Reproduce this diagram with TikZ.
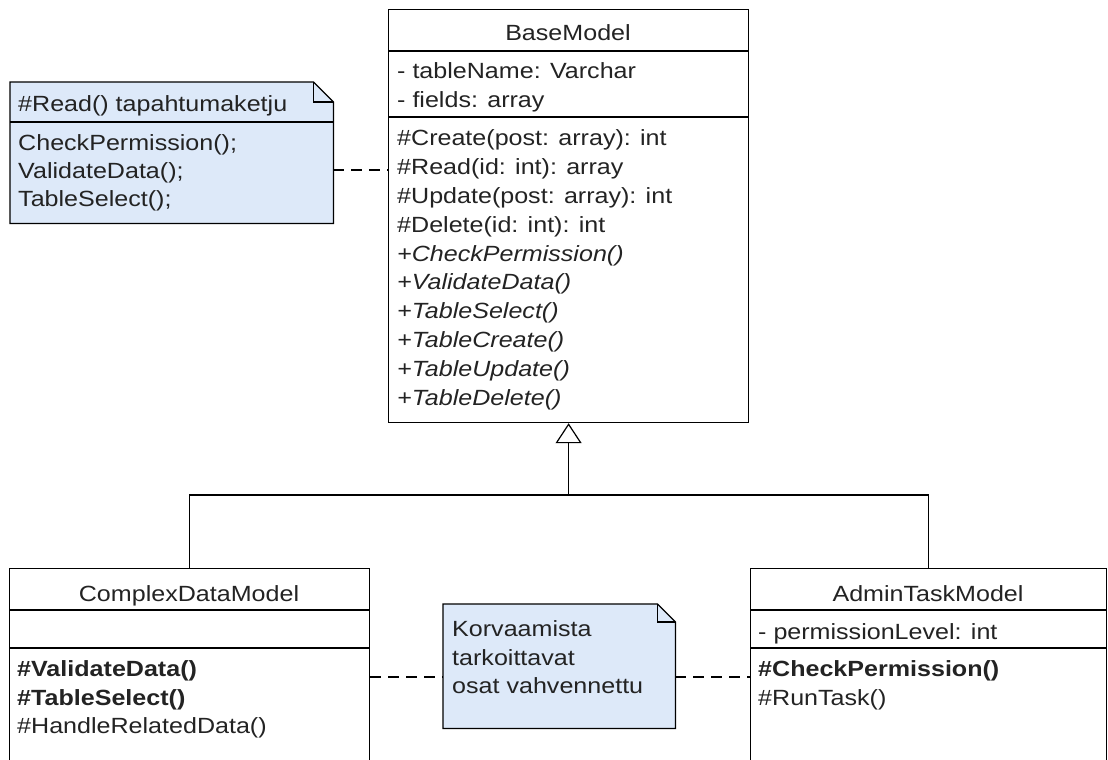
\documentclass[tikz,border=0pt]{standalone}
\usepackage{fontspec}
\setmainfont{Liberation Sans}[FakeStretch=1.14]
\usepackage{tikz}
\usetikzlibrary{arrows.meta}
\definecolor{notecol}{RGB}{221,233,249}
\definecolor{txtcol}{RGB}{35,35,35}

\tikzset{
  umlbox/.style={draw, line width=1.2pt, inner sep=0pt, anchor=north west},
  notebox/.style={inner sep=0pt, anchor=north west},
  txt/.style={anchor=base west, inner sep=0pt, text=txtcol, font=\fontsize{22}{26}\selectfont},
  ttl/.style={anchor=base, inner sep=0pt, text=txtcol, font=\fontsize{22}{26}\selectfont},
  sepline/.style={line width=1.2pt},
  notelink/.style={line width=1.2pt, dash pattern=on 11pt off 7pt},
}

\begin{document}
\begin{tikzpicture}[x=1pt,y=-1pt]
\useasboundingbox (0,0) rectangle (1108,760);
\clip (0,0) rectangle (1108,760);
% classes
\node[umlbox, minimum width=360pt, minimum height=413pt] (base) at (388,9) {};
\node[umlbox, minimum width=360pt, minimum height=220pt] (complex) at (9,568) {};
\node[umlbox, minimum width=356pt, minimum height=220pt] (admin) at (750,568) {};
\draw[sepline] (base.west |- 0,51) -- (base.east |- 0,51);
\draw[sepline] (base.west |- 0,117) -- (base.east |- 0,117);
\draw[sepline] (complex.west |- 0,610) -- (complex.east |- 0,610);
\draw[sepline] (complex.west |- 0,648) -- (complex.east |- 0,648);
\draw[sepline] (admin.west |- 0,610) -- (admin.east |- 0,610);
\draw[sepline] (admin.west |- 0,648) -- (admin.east |- 0,648);

% BaseModel
\node[ttl] (baseT) at (568,41) {BaseModel};
\node[txt] (baseA1) at (397,78) {- tableName: Varchar};
\node[txt] (baseA2) at (397,107) {- fields: array};
\node[txt] (baseM1) at (397,145) {\#Create(post: array): int};
\node[txt] (baseM2) at (397,174) {\#Read(id: int): array};
\node[txt] (baseM3) at (397,203) {\#Update(post: array): int};
\node[txt] (baseM4) at (397,232) {\#Delete(id: int): int};
\node[txt] (baseM5) at (397,261) {\itshape +CheckPermission()};
\node[txt] (baseM6) at (397,289) {\itshape +ValidateData()};
\node[txt] (baseM7) at (397,318) {\itshape +TableSelect()};
\node[txt] (baseM8) at (397,347) {\itshape +TableCreate()};
\node[txt] (baseM9) at (397,376) {\itshape +TableUpdate()};
\node[txt] (baseM10) at (397,405) {\itshape +TableDelete()};

% ComplexDataModel
\node[ttl] (complexT) at (189,601) {ComplexDataModel};
\node[txt] (complexM1) at (17,676) {\bfseries \#ValidateData()};
\node[txt] (complexM2) at (17,705) {\bfseries \#TableSelect()};
\node[txt] (complexM3) at (17,733) {\#HandleRelatedData()};

% AdminTaskModel
\node[ttl] (adminT) at (928,601) {AdminTaskModel};
\node[txt] (adminA1) at (758,639) {- permissionLevel: int};
\node[txt] (adminM1) at (758,676) {\bfseries \#CheckPermission()};
\node[txt] (adminM2) at (758,705) {\#RunTask()};

% generalization
\coordinate (joint) at (base.south |- 0,495);
\draw[sepline] (complex.north) |- (joint) -| (admin.north);
\draw[sepline, -{Triangle[open, width=26pt, length=20pt]}] (joint) -- (base.south);

% notes
\node[notebox, minimum width=323pt, minimum height=141pt] (note1) at (10,82) {};
\filldraw[fill=notecol, sepline] (note1.north west) -- ([xshift=-20pt]note1.north east) -- ([yshift=-20pt]note1.north east) -- (note1.south east) -- (note1.south west) -- cycle;
\draw[sepline] ([xshift=-20pt]note1.north east) -- ++(0,20) -- ++(20,0);
\draw[sepline] (note1.west |- 0,122) -- (note1.east |- 0,122);
\node[txt] (note1T) at (18,111) {\#Read() tapahtumaketju};
\node[txt] (note1L1) at (18,150) {CheckPermission();};
\node[txt] (note1L2) at (18,178) {ValidateData();};
\node[txt] (note1L3) at (18,206) {TableSelect();};

\node[notebox, minimum width=232pt, minimum height=124pt] (note2) at (443,604) {};
\filldraw[fill=notecol, sepline] (note2.north west) -- ([xshift=-18pt]note2.north east) -- ([yshift=-18pt]note2.north east) -- (note2.south east) -- (note2.south west) -- cycle;
\draw[sepline] ([xshift=-18pt]note2.north east) -- ++(0,18) -- ++(18,0);
\node[txt] (note2L1) at (452,636) {Korvaamista};
\node[txt] (note2L2) at (452,665) {tarkoittavat};
\node[txt] (note2L3) at (452,693) {osat vahvennettu};

% note links
\draw[notelink] (note1.east |- 0,170) -- (base.west |- 0,170);
\draw[notelink] (complex.east |- 0,677) -- (note2.west |- 0,677);
\draw[notelink] (note2.east |- 0,677) -- (admin.west |- 0,677);
\end{tikzpicture}
\end{document}
